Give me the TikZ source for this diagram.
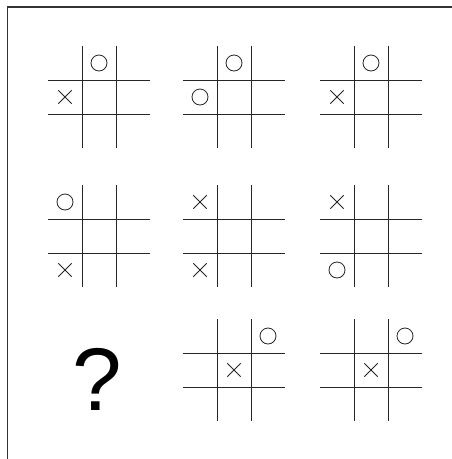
\documentclass[tikz,border=0pt]{standalone}
\usepackage{fontspec}
\setsansfont{Liberation Sans}
\usetikzlibrary{shapes.misc}

\tikzset{
  board/.style={line width=0.8pt,draw=black!85},
  omark/.style={circle,draw=black!85,line width=0.8pt,minimum size=16pt,inner sep=0pt},
  xmark/.style={cross out,draw=black!85,line width=0.8pt,minimum size=12.5pt,inner sep=0pt},
}

\begin{document}
\begin{tikzpicture}
		[x=1pt,y=-1pt]
		\useasboundingbox (0,0) rectangle (452,459);
		\draw [line width=1.2pt,black!80] (7.5,459) -- (7.5,7) -- (452,7);
		% the eight boards
		\foreach \a/\b in {48/46,183/46,320/46,48/185,183/185,320/185,183/319,320/319}{
			\draw [board] (\a+34,\b) -- (\a+34,\b+102) (\a+68,\b) -- (\a+68,\b+102)
				(\a,\b+34) -- (\a+102,\b+34) (\a,\b+68) -- (\a+102,\b+68);
		}
		% row 1
		\node [omark] (o1) at (99,63) {};
		\node [xmark] (x1) at (65,97) {};
		\node [omark] (o2a) at (234,63) {};
		\node [omark] (o2b) at (200,97) {};
		\node [omark] (o3) at (371,63) {};
		\node [xmark] (x3) at (337,97) {};
		% row 2
		\node [omark] (o4) at (65,202) {};
		\node [xmark] (x4) at (65,270) {};
		\node [xmark] (x5a) at (200,202) {};
		\node [xmark] (x5b) at (200,270) {};
		\node [xmark] (x6) at (337,202) {};
		\node [omark] (o6) at (337,270) {};
		% row 3
		\node [anchor=base,inner sep=0pt,font=\sffamily\fontsize{89}{89}\selectfont] (quest) at (97,410) {?};
		\node [omark] (o7) at (268,336) {};
		\node [xmark] (x7) at (234,370) {};
		\node [omark] (o8) at (405,336) {};
		\node [xmark] (x8) at (371,370) {};
	\end{tikzpicture}
\end{document}
